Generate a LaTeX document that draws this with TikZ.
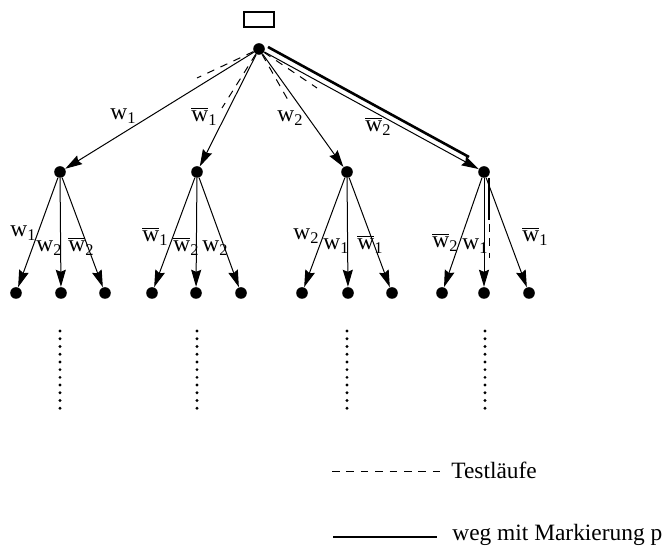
\documentclass[tikz,border=0pt]{standalone}
\usepackage{fontspec}
\setmainfont{Liberation Serif}
\usetikzlibrary{arrows.meta,positioning}

\newcommand{\wn}[1]{w\textsubscript{#1}}
\newcommand{\wq}[1]{$\overline{\mbox{w}}$\textsubscript{#1}}

\begin{document}
\begin{tikzpicture}[x=0.5pt,y=-0.5pt]
    \tikzstyle{knoten}=[circle, fill=black, inner sep=0pt, minimum size=5.8pt]
    \tikzstyle{kante}=[-{Stealth[length=8.5pt,width=5pt,inset=1pt]}, line width=0.5pt]
    \tikzstyle{marke}=[font=\fontsize{11.7}{14}\selectfont, inner sep=0pt, anchor=base west]
    \tikzstyle{testlauf}=[dash pattern=on 3.8pt off 3.4pt, line width=0.5pt]
    \tikzstyle{weg}=[line width=1.3pt]
    \tikzstyle{punkte}=[line width=1.6pt, line cap=round, dash pattern=on 0pt off 3.864pt]

    \useasboundingbox (0,0) rectangle (670,549);

    \node[draw, line width=0.8pt, minimum width=15pt, minimum height=7.5pt, inner sep=0pt] (start) at (259,19.5) {};
    \node[knoten] (wurzel) at (259,49) {};

    \node[knoten] (k1) at (60,172) {};
    \node[knoten] (k2) at (197,172) {};
    \node[knoten] (k3) at (347,172) {};
    \node[knoten] (k4) at (484,172) {};

    \node[knoten] (b11) at (16,293) {};
    \node[knoten] (b12) at (61,293) {};
    \node[knoten] (b13) at (105,293) {};
    \node[knoten] (b21) at (152,293) {};
    \node[knoten] (b22) at (196,293) {};
    \node[knoten] (b23) at (241,293) {};
    \node[knoten] (b31) at (302,293) {};
    \node[knoten] (b32) at (348,293) {};
    \node[knoten] (b33) at (392,293) {};
    \node[knoten] (b41) at (442,293) {};
    \node[knoten] (b42) at (484,293) {};
    \node[knoten] (b43) at (529,293) {};

    \draw[kante] (wurzel) -- (k1);
    \draw[kante] (wurzel) -- (k2);
    \draw[kante] (wurzel) -- (k3);
    \draw[kante] (wurzel) -- (k4);

    \draw[kante] (k1) -- (b11);
    \draw[kante] (k1) -- (b12);
    \draw[kante] (k1) -- (b13);
    \draw[kante] (k2) -- (b21);
    \draw[kante] (k2) -- (b22);
    \draw[kante] (k2) -- (b23);
    \draw[kante] (k3) -- (b31);
    \draw[kante] (k3) -- (b32);
    \draw[kante] (k3) -- (b33);
    \draw[kante] (k4) -- (b41);
    \draw[kante] (k4) -- (b42);
    \draw[kante] (k4) -- (b43);

    % Testlaeufe
    \coordinate (t1) at (197,78);
    \coordinate (t2) at (222,108);
    \coordinate (t3) at (288,100);
    \coordinate (t4) at (317,88);
    \draw[testlauf] (wurzel) -- (t1);
    \draw[testlauf] (wurzel) -- (t2);
    \draw[testlauf] (wurzel) -- (t3);
    \draw[testlauf] (wurzel) -- (t4);

    % markierter Weg
    \coordinate (p1) at (268,47);
    \coordinate (p2) at (469,157);
    \coordinate (p3) at (489,178);
    \coordinate (p4) at (489,220);
    \coordinate (p5) at (489,224);
    \coordinate (p6) at (489,258);
    \draw[weg] (p1) -- (p2);
    \draw[weg] (p3) -- (p4);
    \draw[testlauf] (p5) -- (p6);

    \foreach \x in {60,197,347,485}
        \draw[punkte] (\x,331) -- (\x,416);

    \node[marke] (lab-w1) at (110,120) {\wn{1}};
    \node[marke] (lab-wq1) at (191,122) {\wq{1}};
    \node[marke] (lab-w2) at (277,122) {\wn{2}};
    \node[marke] (lab-wq2) at (365,132) {\wq{2}};

    \node[marke] (lab-11) at (10,237) {\wn{1}};
    \node[marke] (lab-12) at (36,252) {\wn{2}};
    \node[marke] (lab-13) at (68,252) {\wq{2}};
    \node[marke] (lab-21) at (142,242) {\wq{1}};
    \node[marke] (lab-22) at (173,252) {\wq{2}};
    \node[marke] (lab-23) at (202,252) {\wn{2}};
    \node[marke] (lab-31) at (293,240) {\wn{2}};
    \node[marke] (lab-32) at (323,250) {\wn{1}};
    \node[marke] (lab-33) at (357,250) {\wq{1}};
    \node[marke] (lab-41) at (432,248) {\wq{2}};
    \node[marke] (lab-42) at (462,250) {\wn{1}};
    \node[marke] (lab-43) at (522,242) {\wq{1}};

    % Legende
    \coordinate (leg1a) at (332,472);
    \coordinate (leg1b) at (443,472);
    \draw[testlauf] (leg1a) -- (leg1b);
    \node[marke] (leg-test) at (451,479) {Testläufe};
    \coordinate (leg2a) at (333,537);
    \coordinate (leg2b) at (437,537);
    \draw[weg] (leg2a) -- (leg2b);
    \node[marke] (leg-weg) at (452,541) {weg mit Markierung p};
\end{tikzpicture}
\end{document}
